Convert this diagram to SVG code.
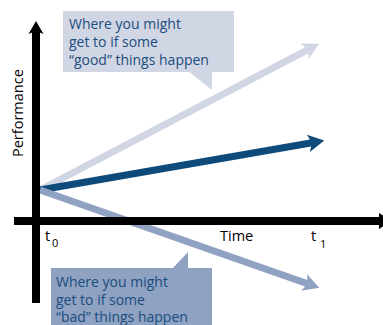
<svg xmlns="http://www.w3.org/2000/svg" width="383" height="325" viewBox="0 0 383 325">
<defs>
<style>
.txt{font-family:"Open Sans","Liberation Sans",sans-serif;font-size:14px;fill:#1b4d7e}
.lbl{font-family:"Open Sans","Liberation Sans",sans-serif;font-size:14.5px;fill:#000}
.sub{font-family:"Open Sans","Liberation Sans",sans-serif;font-size:11px;fill:#000}
</style>
<marker id="hLight" markerUnits="userSpaceOnUse" markerWidth="20" markerHeight="20" viewBox="-4 -8 16 16" refX="0" refY="0" orient="auto"><path d="M-3,-7 L10,0 L-3,7 L0,0 Z" fill="#d1d6e4"/></marker>
<marker id="hDark" markerUnits="userSpaceOnUse" markerWidth="20" markerHeight="20" viewBox="-4 -8 16 16" refX="0" refY="0" orient="auto"><path d="M-3,-7 L10,0 L-3,7 L0,0 Z" fill="#0e4a7a"/></marker>
<marker id="hBad" markerUnits="userSpaceOnUse" markerWidth="20" markerHeight="20" viewBox="-4 -8 16 16" refX="0" refY="0" orient="auto"><path d="M-3,-7 L10,0 L-3,7 L0,0 Z" fill="#8fa2c2"/></marker>
</defs>
<rect width="383" height="325" fill="#fff"/>
<g id="connectors">
<line x1="40" y1="190" x2="308" y2="49.6" stroke="#d1d6e4" stroke-width="7" marker-end="url(#hLight)"/>
<line x1="40" y1="190" x2="312" y2="142.7" stroke="#0e4a7a" stroke-width="7" marker-end="url(#hDark)"/>
<line x1="40" y1="190" x2="307.6" y2="283.7" stroke="#8fa2c2" stroke-width="7" marker-end="url(#hBad)"/>
</g>
<g id="axes">
<line x1="36" y1="303" x2="36" y2="30" stroke="#000" stroke-width="8"/>
<path d="M28.5,34 L36,21 L43.5,34 L36,31 Z" fill="#000"/>
<line x1="14" y1="221" x2="380" y2="221" stroke="#000" stroke-width="8"/>
<path d="M379,213 L392,221 L379,229 Z" fill="#000"/>
<text class="lbl" transform="translate(23,157) rotate(-90)">Performance</text>
<text class="lbl" x="220" y="241">Time</text>
<text class="lbl" x="45" y="241">t<tspan class="sub" x="52" y="247">0</tspan></text>
<text class="lbl" x="311" y="241">t<tspan class="sub" x="320" y="248">1</tspan></text>
</g>
<g id="good-callout">
<rect x="63" y="11" width="171" height="61" fill="#d1d6e4"/>
<path d="M188,71 L212,71 L212,90 Z" fill="#d1d6e4"/>
<text class="txt" x="69" y="29">Where you might</text>
<text class="txt" x="69" y="47">get to if some</text>
<text class="txt" x="69" y="65">“good” things happen</text>
</g>
<g id="bad-callout">
<rect x="51" y="268" width="161" height="57" fill="#8fa2c2"/>
<path d="M172,269 L188,252 L188,269 Z" fill="#8fa2c2"/>
<text class="txt" x="56" y="287">Where you might</text>
<text class="txt" x="56" y="304.5">get to if some</text>
<text class="txt" x="56" y="322">“bad” things happen</text>
</g>
</svg>
